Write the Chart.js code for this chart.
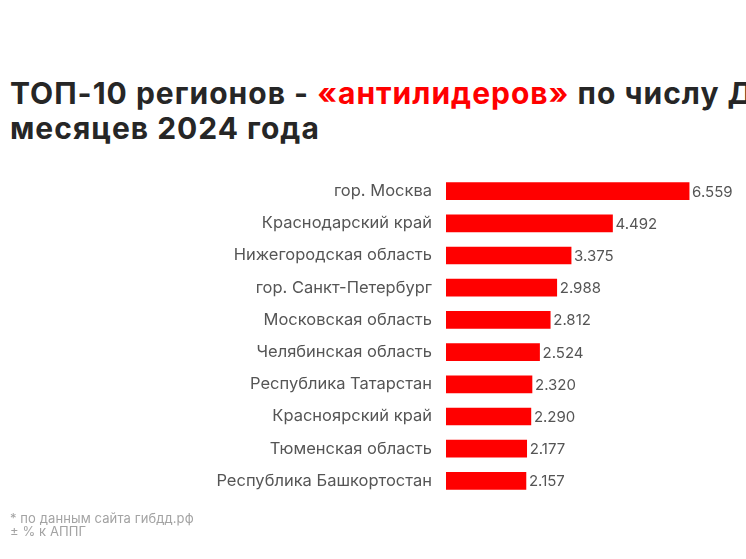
<!DOCTYPE html>
<html>
<head>
<meta charset="utf-8">
<script src="https://cdn.jsdelivr.net/npm/chart.js@4/dist/chart.umd.min.js"></script>
<style>
  html, body { margin: 0; padding: 0; background: #fff; overflow: hidden; }
  #wrap { position: relative; width: 746px; height: 559px; overflow: hidden; }
  #chart { position: absolute; left: 0; top: 0; }
  .title { position: absolute; left: 10px; white-space: nowrap; font: 700 30px Inter, sans-serif; letter-spacing: 1px; color: #262626; }
  .title b { color: #ff0000; font-weight: 700; }
  .note { position: absolute; left: 10px; font: 13px Inter, sans-serif; letter-spacing: 0.1px; color: #a3a3a3; white-space: nowrap; }
</style>
</head>
<body>
<div id="wrap">
  <div class="title" style="top:75px">ТОП-10 регионов - <b>«антилидеров»</b> по числу ДТП</div>
  <div class="title" style="top:110px">месяцев 2024 года</div>
  <canvas id="chart" width="746" height="559"></canvas>
  <div class="note" style="top:510px">* по данным сайта гибдд.рф</div>
  <div class="note" style="top:523px">± % к АППГ</div>
</div>
<script>
const regions = ['гор. Москва', 'Краснодарский край', 'Нижегородская область', 'гор. Санкт-Петербург', 'Московская область', 'Челябинская область', 'Республика Татарстан', 'Красноярский край', 'Тюменская область', 'Республика Башкортостан'];
const crashes = [6559, 4492, 3375, 2988, 2812, 2524, 2320, 2290, 2177, 2157];
const valueLabels = ['6.559', '4.492', '3.375', '2.988', '2.812', '2.524', '2.320', '2.290', '2.177', '2.157'];

// подписи значений справа от столбцов
const barValues = {
  id: 'barValues',
  afterDatasetsDraw(chart) {
    const ctx = chart.ctx;
    ctx.save();
    ctx.font = '15px Inter, sans-serif';
    ctx.fillStyle = '#555';
    ctx.textBaseline = 'middle';
    chart.getDatasetMeta(0).data.forEach((bar, i) => {
      ctx.fillText(valueLabels[i], bar.x + 3, bar.y + 1);
    });
    ctx.restore();
  }
};

new Chart(document.getElementById('chart'), {
  type: 'bar',
  data: { labels: regions, datasets: [{ data: crashes, backgroundColor: '#ff0000', barThickness: 17 }] },
  options: {
    indexAxis: 'y',
    responsive: false,
    animation: false,
    layout: { padding: { top: 175, bottom: 62, right: 22 } },
    plugins: { legend: { display: false }, tooltip: { enabled: false } },
    scales: {
      x: { display: false, min: 0, max: 7500 },
      y: {
        afterFit: s => { s.width = 446; },
        grid: { display: false },
        border: { display: false },
        ticks: { color: '#555', font: { family: 'Inter, sans-serif', size: 16.5 }, padding: 6 }
      }
    }
  },
  plugins: [barValues]
});
</script>
</body>
</html>
